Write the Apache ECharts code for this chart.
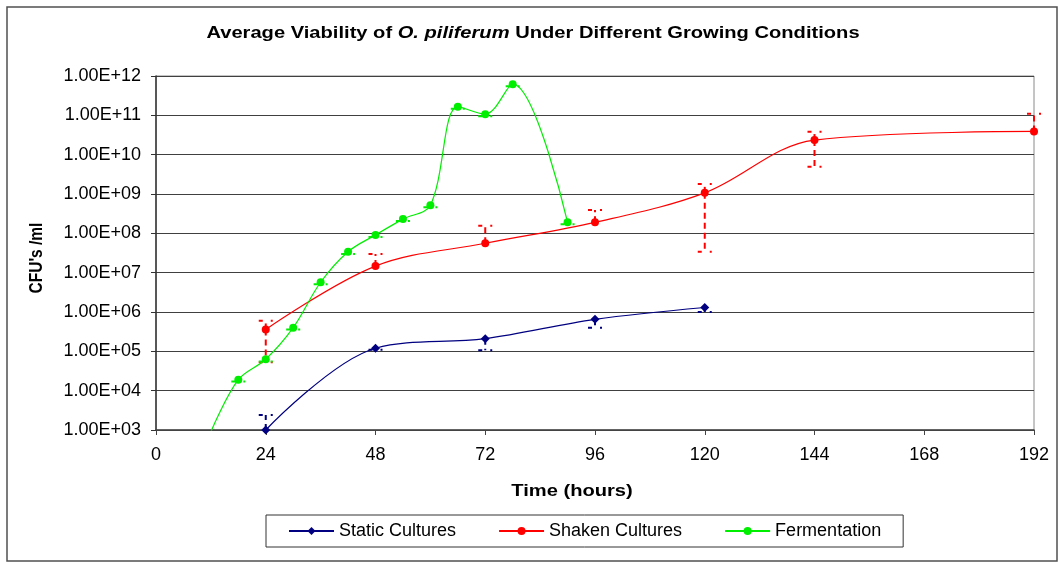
<!DOCTYPE html>
<html>
<head>
<meta charset="utf-8">
<script src="https://cdn.jsdelivr.net/npm/echarts@6/dist/echarts.min.js"></script>
<style>
  html, body { margin: 0; padding: 0; background: #fff; }
  #chart { width: 1059px; height: 563px; }
</style>
</head>
<body>
<div id="chart"></div>
<script>
// values (CFU/ml against hours)
const hoursStatic = [24, 48, 72, 96, 120];
const cfuStatic = [1.0e3, 1.2e5, 2.1e5, 6.5e5, 1.3e6];
const lowStatic = [null, 1.1e5, 1.07e5, 4.0e5, 1.0e6];
const highStatic = [2.4e3, null, null, null, null];

const hoursShaken = [24, 48, 72, 96, 120, 144, 192];
const cfuShaken = [3.6e5, 1.47e7, 5.6e7, 1.9e8, 1.07e9, 2.35e10, 3.9e10];
const lowShaken = [5.3e4, null, null, null, 3.4e7, 4.9e9, null];
const highShaken = [6.0e5, 3.0e7, 1.57e8, 3.9e8, 1.8e9, 3.8e10, 1.1e11];

const hoursFerm = [12, 18, 24, 30, 36, 42, 48, 54, 60, 66, 72, 78, 90];
const cfuFerm = [9e2, 1.9e4, 6.3e4, 4.0e5, 5.7e6, 3.4e7, 9.1e7, 2.3e8, 5.2e8, 1.66e11, 1.07e11, 6.2e11, 1.9e8];
const lowFerm = [null, 1.7e4, 5.5e4, 3.6e5, 5.1e6, 3.0e7, 8.1e7, 2.05e8, 4.6e8, 1.48e11, 9.5e10, 5.5e11, 1.7e8];
const highFerm = [null, null, null, null, null, null, null, null, null, null, null, null, null];

const FONT = "'Liberation Sans', Arial, sans-serif";

function zip(xs, ys) {
  return xs.map((x, i) => [x, ys[i]]);
}

function errData(xs, ys, lo, hi) {
  return xs.map((x, i) => [x, ys[i], lo[i] == null ? ys[i] : lo[i], hi[i] == null ? ys[i] : hi[i]]);
}

// dashed excel-style error bars with caps
function errBar(color) {
  return function (params, api) {
    const x = api.value(0);
    const y = api.value(1);
    const p = api.coord([x, y]);
    const children = [];
    [api.value(2), api.value(3)].forEach(function (v) {
      if (v === y) return;
      const q = api.coord([x, v]);
      children.push({
        type: 'line',
        shape: { x1: p[0], y1: p[1], x2: q[0], y2: q[1] },
        style: { stroke: color, lineWidth: 2, lineDash: [6, 4] }
      });
      children.push({
        type: 'line',
        shape: { x1: q[0] - 7, y1: q[1], x2: q[0] + 7, y2: q[1] },
        style: { stroke: color, lineWidth: 2, lineDash: [4, 8] }
      });
    });
    return { type: 'group', children: children };
  };
}

const chart = echarts.init(document.getElementById('chart'));

chart.setOption({
  animation: false,
  backgroundColor: '#fff',
  textStyle: { fontFamily: FONT },
  graphic: [
    {
      type: 'rect',
      shape: { x: 7, y: 7, width: 1050, height: 554 },
      style: { fill: null, stroke: '#505050', lineWidth: 1.5 },
      silent: true
    },
    {
      type: 'text',
      x: 533, y: 33, scaleX: 1.22,
      style: {
        text: '{b|Average Viability of }{i|O. piliferum}{b| Under Different Growing Conditions}',
        align: 'center', verticalAlign: 'middle',
        rich: {
          b: { fontFamily: FONT, fontWeight: 'bold', fontSize: 16.5, fill: '#000' },
          i: { fontFamily: FONT, fontWeight: 'bold', fontStyle: 'italic', fontSize: 16.5, fill: '#000' }
        }
      }
    },
    {
      type: 'text',
      x: 572, y: 491, scaleX: 1.22,
      style: {
        text: 'Time (hours)', fontFamily: FONT, fontWeight: 'bold', fontSize: 16.5,
        fill: '#000', align: 'center', verticalAlign: 'middle'
      }
    },
    {
      type: 'text',
      x: 37, y: 258, rotation: Math.PI / 2, scaleY: 1.2,
      style: {
        text: "CFU's /ml", fontFamily: FONT, fontWeight: 'bold', fontSize: 15.5,
        fill: '#000', align: 'center', verticalAlign: 'middle'
      }
    }
  ],
  legend: {
    data: ['Static Cultures', 'Shaken Cultures', 'Fermentation'],
    left: 266,
    top: 515,
    padding: [7, 22, 7, 22],
    itemGap: 42,
    itemWidth: 45,
    itemHeight: 10,
    borderColor: '#333',
    borderWidth: 1,
    textStyle: { fontFamily: FONT, fontSize: 18, color: '#000' }
  },
  grid: {
    left: 156, right: 25, top: 76, bottom: 133,
    show: true, borderColor: '#8a8a8a', borderWidth: 1,
    containLabel: false
  },
  xAxis: {
    type: 'value',
    min: 0, max: 192, interval: 24,
    axisLine: { lineStyle: { color: '#444', width: 1.5 } },
    axisTick: { show: true, length: 5, lineStyle: { color: '#444' } },
    axisLabel: { margin: 16, fontFamily: FONT, fontSize: 18, color: '#000' },
    splitLine: { show: false }
  },
  yAxis: {
    type: 'log',
    logBase: 10,
    min: 1e3, max: 1e12,
    axisLine: { show: true, lineStyle: { color: '#333', width: 1.5 } },
    axisTick: { show: true, length: 5, lineStyle: { color: '#333' } },
    axisLabel: {
      margin: 15, fontFamily: FONT, fontSize: 18, color: '#000',
      formatter: function (v) {
        return '1.00E+' + String(Math.round(Math.log10(v))).padStart(2, '0');
      }
    },
    splitLine: { show: true, lineStyle: { color: '#404040', width: 1 } }
  },
  series: [
    {
      name: 'Static err', type: 'custom', z: 1, clip: false, silent: true,
      renderItem: errBar('#000080'),
      encode: { x: 0, y: 1 },
      data: errData(hoursStatic, cfuStatic, lowStatic, highStatic)
    },
    {
      name: 'Shaken err', type: 'custom', z: 1, clip: false, silent: true,
      renderItem: errBar('#ff0000'),
      encode: { x: 0, y: 1 },
      data: errData(hoursShaken, cfuShaken, lowShaken, highShaken)
    },
    {
      name: 'Fermentation err', type: 'custom', z: 1, clip: false, silent: true,
      renderItem: errBar('#00ee00'),
      encode: { x: 0, y: 1 },
      data: errData(hoursFerm, cfuFerm, lowFerm, highFerm)
    },
    {
      name: 'Static Cultures', type: 'line', z: 3,
      smooth: 0.35,
      symbol: 'diamond', symbolSize: 9,
      itemStyle: { color: '#000080' },
      lineStyle: { color: '#000080', width: 1.2 },
      data: zip(hoursStatic, cfuStatic)
    },
    {
      name: 'Shaken Cultures', type: 'line', z: 3,
      smooth: 0.35,
      symbol: 'circle', symbolSize: 8,
      itemStyle: { color: '#ff0000' },
      lineStyle: { color: '#ff0000', width: 1.2 },
      data: zip(hoursShaken, cfuShaken)
    },
    {
      name: 'Fermentation', type: 'line', z: 3,
      smooth: 0.35,
      symbol: 'circle', symbolSize: 8,
      itemStyle: { color: '#00ee00' },
      lineStyle: { color: '#00ee00', width: 1.2 },
      data: zip(hoursFerm, cfuFerm)
    }
  ]
});
</script>
</body>
</html>
